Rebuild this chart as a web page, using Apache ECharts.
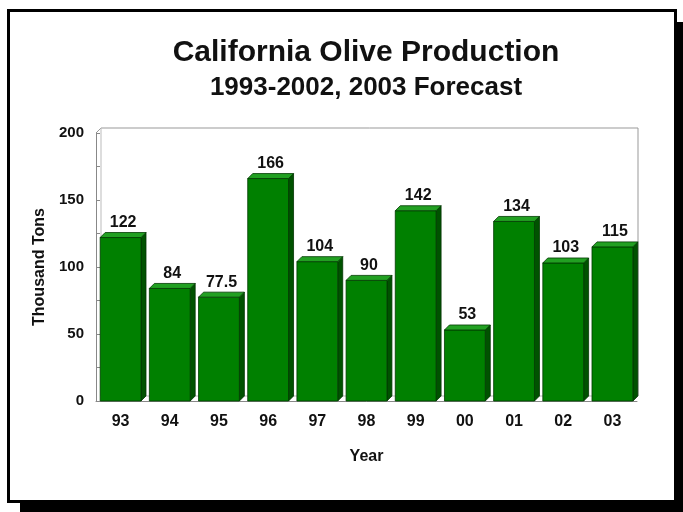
<!DOCTYPE html>
<html><head><meta charset="utf-8">
<script src="https://cdn.jsdelivr.net/npm/echarts@6/dist/echarts.min.js"></script>
<style>html,body{margin:0;padding:0;background:#fff;}#c{width:683px;height:512px;}</style>
</head><body><div id="c"></div>
<script>
var categories = ['93','94','95','96','97','98','99','00','01','02','03'];
var production = [122, 84, 77.5, 166, 104, 90, 142, 53, 134, 103, 115];
var yTicks = [0, 50, 100, 150, 200];

var chart = echarts.init(document.getElementById('c'), null, {renderer:'canvas'});
var D = 5;
var font = '"Liberation Sans", Arial, sans-serif';

function renderBar(params, api){
  var c = api.value(0), v = api.value(1);
  var p = api.coord([c, v]), b = api.coord([c, 0]);
  var bw = api.size([1,0])[0]*0.83;
  var l = p[0]-bw/2, r = p[0]+bw/2, t = p[1], bt = b[1];
  return {type:'group', children:[
    {type:'polygon', shape:{points:[[r,t],[r+D,t-D],[r+D,bt-D],[r,bt]]}, style:{fill:'#005200', stroke:'#003300', lineWidth:0.8}},
    {type:'rect', shape:{x:l, y:t, width:bw, height:bt-t}, style:{fill:'#008000', stroke:'#003a00', lineWidth:0.8}},
    {type:'polygon', shape:{points:[[l,t],[l+D,t-D],[r+D,t-D],[r,t]]}, style:{fill:'#22a022', stroke:'#003a00', lineWidth:0.8}},
    {type:'text', style:{text:String(v), x:p[0]+D/2, y:t-D-2, textAlign:'center', textVerticalAlign:'bottom', fill:'#111', font:'bold 16px '+font}}
  ]};
}

chart.setOption({
  animation:false,
  backgroundColor:'#fff',
  title:[
    {text:'California Olive Production', left:361, top:33, textAlign:'center', textStyle:{fontFamily:font, fontWeight:'bold', fontSize:30, color:'#111'}},
    {text:'1993-2002, 2003 Forecast', left:361, top:70, textAlign:'center', textStyle:{fontFamily:font, fontWeight:'bold', fontSize:26, color:'#111'}}
  ],
  grid:{left:96, right:46, top:133, bottom:111},
  xAxis:{type:'category', data:categories, name:'Year', nameLocation:'middle', nameGap:48,
    nameTextStyle:{fontFamily:font, fontWeight:'bold', fontSize:16, color:'#111'},
    axisLine:{lineStyle:{color:'#888'}}, axisTick:{show:false},
    axisLabel:{fontFamily:font, fontWeight:'bold', fontSize:16, color:'#111', margin:13}},
  yAxis:{type:'value', min:0, max:200, interval:50, name:'Thousand Tons', nameLocation:'middle', nameGap:48,
    nameTextStyle:{fontFamily:font, fontWeight:'bold', fontSize:16, color:'#111'},
    axisLine:{show:true, lineStyle:{color:'#888'}},
    axisTick:{show:true, inside:true, length:4, lineStyle:{color:'#888'}},
    minorTick:{show:true, splitNumber:2, length:4, lineStyle:{color:'#888'}},
    splitLine:{show:false},
    axisLabel:{fontFamily:font, fontWeight:'bold', fontSize:15, color:'#111', margin:12,
      formatter:function(v){return yTicks.indexOf(v)>=0?String(v):'';}}},
  series:[{type:'custom', renderItem:renderBar, data:categories.map(function(c,i){return [i, production[i]];}), encode:{x:0,y:1}, z:5}]
});

var tl = chart.convertToPixel({gridIndex:0}, [0, 200]);
var br = chart.convertToPixel({gridIndex:0}, [categories.length-1, 0]);
var step = chart.convertToPixel({gridIndex:0}, [1, 0])[0] - chart.convertToPixel({gridIndex:0}, [0, 0])[0];
var x0 = tl[0]-step/2, x1 = br[0]+step/2, y0 = tl[1], y1 = br[1];
var wall = {stroke:'#999', lineWidth:1, fill:null};
chart.setOption({graphic:[
  {type:'rect', shape:{x:8.5, y:10.5, width:667, height:491}, style:{fill:null, stroke:'#000', lineWidth:3}, z:-10},
  {type:'rect', shape:{x:675, y:22, width:8, height:490}, style:{fill:'#000'}},
  {type:'rect', shape:{x:20, y:503, width:663, height:9}, style:{fill:'#000'}},
  {type:'polyline', shape:{points:[[x0,y0],[x0+D,y0-D],[x1+D-4,y0-D],[x1+D-4,y1-D],[x1-4,y1]]}, style:wall, z:-1},
  {type:'polyline', shape:{points:[[x0+D,y0-D],[x0+D,y1-D],[x1+D-4,y1-D]]}, style:{stroke:'#bbb', lineWidth:1, fill:null}, z:-1}
]});
</script></body></html>
